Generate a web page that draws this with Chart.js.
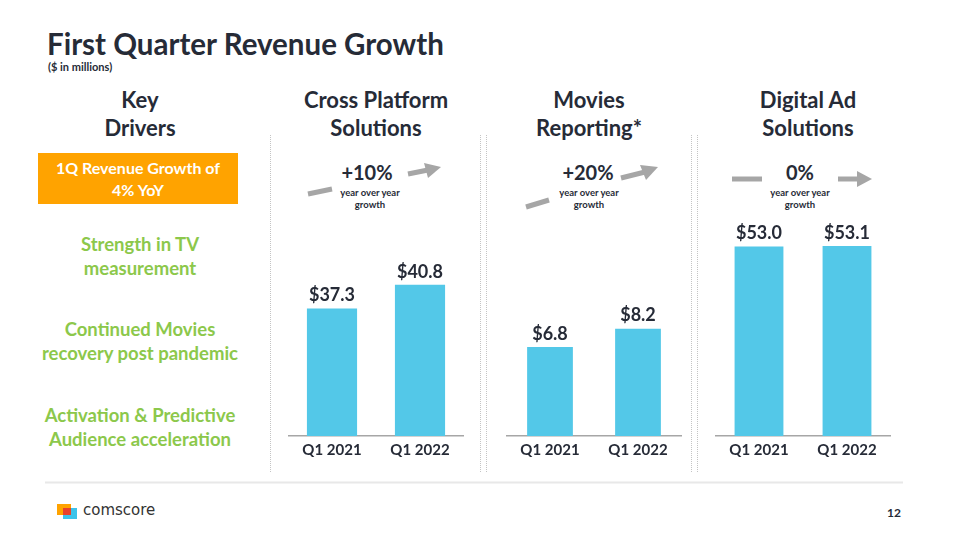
<!DOCTYPE html>
<html>
<head>
<meta charset="utf-8">
<script src="https://cdn.jsdelivr.net/npm/chart.js@4.4.0/dist/chart.umd.min.js"></script>
<style>
  html, body { margin: 0; padding: 0; background: #fff; }
  body { width: 960px; height: 540px; position: relative; overflow: hidden; font-family: Lato, "Open Sans", sans-serif; color: #262b37; }
  .abs { position: absolute; }
  .c { text-align: center; font-weight: bold; }
  .title { left: 47px; top: 24px; font-size: 29.5px; font-weight: bold; line-height: 40px; }
  .sub { left: 48px; top: 60px; font-size: 11px; font-weight: bold; }
  .head { font-size: 22px; line-height: 28px; top: 86px; width: 240px; }
  .orange { left: 38px; top: 153px; width: 200px; height: 51px; background: #ffa300; color: #fff; font-size: 16px; line-height: 22px; padding-top: 4px; box-sizing: border-box; }
  .green { left: 20px; width: 240px; color: #8cc84b; font-size: 18.5px; line-height: 24px; }
  .pct { font-size: 20px; line-height: 24px; top: 160px; width: 120px; }
  .yoy { font-size: 9.5px; line-height: 12px; top: 187px; width: 120px; }
  .vline { width: 0; border-left: 1.5px dotted #c4c4c4; top: 135px; height: 337px; }
  canvas { position: absolute; }
</style>
</head>
<body>
<div class="abs title">First Quarter Revenue Growth</div>
<div class="abs sub">($ in millions)</div>

<div class="abs c head" style="left:20px">Key<br>Drivers</div>
<div class="abs c head" style="left:256px">Cross Platform<br>Solutions</div>
<div class="abs c head" style="left:469px">Movies<br>Reporting*</div>
<div class="abs c head" style="left:688px">Digital Ad<br>Solutions</div>

<div class="abs c orange">1Q Revenue Growth of<br>4% YoY</div>
<div class="abs c green" style="top:232px">Strength in TV<br>measurement</div>
<div class="abs c green" style="top:317px">Continued Movies<br>recovery post pandemic</div>
<div class="abs c green" style="top:403px">Activation &amp; Predictive<br>Audience acceleration</div>

<div class="abs vline" style="left:270px"></div>
<div class="abs vline" style="left:480px"></div>
<div class="abs vline" style="left:486px"></div>
<div class="abs vline" style="left:691px"></div>
<div class="abs vline" style="left:697px"></div>

<div class="abs c pct" style="left:307px">+10%</div>
<div class="abs c yoy" style="left:310px">year over year<br>growth</div>
<div class="abs c pct" style="left:528px">+20%</div>
<div class="abs c yoy" style="left:529px">year over year<br>growth</div>
<div class="abs c pct" style="left:740px">0%</div>
<div class="abs c yoy" style="left:740px">year over year<br>growth</div>

<svg class="abs" style="left:0;top:0" width="960" height="540">
  <g stroke="#a6a6a6" stroke-width="5" fill="#a6a6a6">
    <line x1="308" y1="194" x2="332" y2="189"/>
    <line x1="408" y1="174" x2="428" y2="170"/>
    <polygon points="441,167 424,163 428,178" stroke="none"/>
    <line x1="526" y1="207" x2="549" y2="200"/>
    <line x1="621" y1="178" x2="645" y2="172"/>
    <polygon points="658,167 640,165 646,180" stroke="none"/>
    <line x1="732" y1="179" x2="762" y2="179"/>
    <line x1="838" y1="179" x2="860" y2="179"/>
    <polygon points="872,179 857,171 857,187" stroke="none"/>
  </g>
  <line x1="45" y1="482.5" x2="903" y2="482.5" stroke="#e8e8e8" stroke-width="2"/>
  <rect x="57" y="504" width="14" height="11" fill="#ffa300"/>
  <rect x="63" y="508" width="14" height="11" fill="#3cc3ea"/>
  <rect x="63" y="508" width="8" height="7" fill="#e8412c"/>
</svg>
<div class="abs" style="left:83px;top:501px;font-family:'DejaVu Sans',sans-serif;font-size:15px;color:#333;">comscore</div>
<div class="abs" style="left:887px;top:505px;font-size:12px;font-weight:bold;">12</div>

<canvas id="c1" style="left:288px;top:205px" width="176" height="267"></canvas>
<canvas id="c2" style="left:506px;top:205px" width="176" height="267"></canvas>
<canvas id="c3" style="left:715px;top:205px" width="176" height="267"></canvas>

<script>
const quarters = ['Q1 2021', 'Q1 2022'];
const crossPlatform = [37.3, 40.8];
const moviesReporting = [6.8, 8.2];
const digitalAd = [53.0, 53.1];
// value-axis ranges, chosen so bar heights match the slide
const crossRange = [18.6, 48.1];
const moviesRange = [0, 15.35];
const digitalRange = [0, 56.2];

const ink = '#262b37';
const barBlue = '#53c8e8';

const valueLabels = {
  id: 'valueLabels',
  afterDatasetsDraw(chart) {
    const ctx = chart.ctx;
    const meta = chart.getDatasetMeta(0);
    ctx.save();
    ctx.font = 'bold 18px Lato, sans-serif';
    ctx.fillStyle = ink;
    ctx.textAlign = 'center';
    ctx.textBaseline = 'middle';
    meta.data.forEach(function (bar, i) {
      ctx.fillText('$' + chart.data.datasets[0].data[i].toFixed(1), bar.x, bar.y - 13);
    });
    ctx.restore();
  }
};

function makeChart(id, values, range, barPct) {
  return new Chart(document.getElementById(id), {
    type: 'bar',
    data: {
      labels: quarters,
      datasets: [{
        data: values,
        backgroundColor: barBlue,
        borderWidth: 0,
        barPercentage: barPct,
        categoryPercentage: 1
      }]
    },
    options: {
      responsive: false,
      animation: false,
      events: [],
      layout: { padding: { top: 30, bottom: 8, left: 0, right: 0 } },
      plugins: { legend: { display: false }, tooltip: { enabled: false } },
      scales: {
        y: { display: false, min: range[0], max: range[1] },
        x: {
          grid: { display: false, drawTicks: false },
          border: { display: true, color: '#a6a6a6', width: 1.5 },
          ticks: { color: ink, font: { family: 'Lato', size: 15, weight: 'bold' }, padding: 5 }
        }
      }
    },
    plugins: [valueLabels]
  });
}

makeChart('c1', crossPlatform, crossRange, 0.57);
makeChart('c2', moviesReporting, moviesRange, 0.52);
makeChart('c3', digitalAd, digitalRange, 0.555);
</script>
</body>
</html>
